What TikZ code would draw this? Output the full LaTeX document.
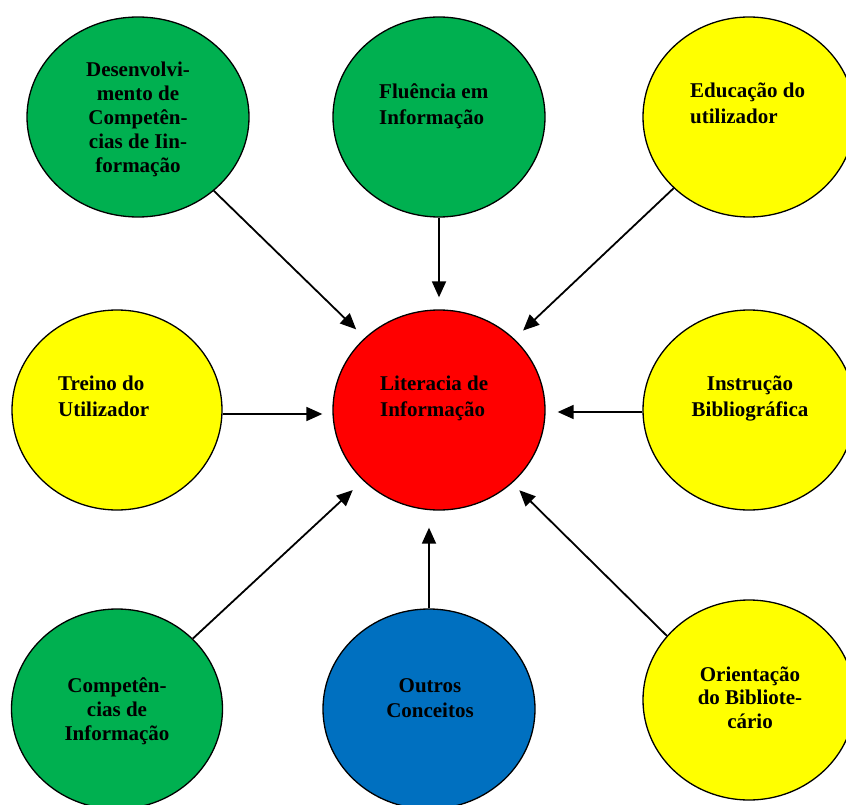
\documentclass[tikz,border=0pt]{standalone}
\usepackage{fontspec}
\setmainfont{Liberation Serif}
\usetikzlibrary{shapes.geometric,arrows.meta}
\definecolor{bgreen}{HTML}{00B050}
\definecolor{byellow}{HTML}{FFFF00}
\definecolor{bred}{HTML}{FF0000}
\definecolor{bblue}{HTML}{0070C0}
\begin{document}
\begin{tikzpicture}[x=1pt,y=-1pt,
  bubble/.style={ellipse, draw=black, line width=1.3pt, inner sep=0pt, minimum width=212pt, minimum height=200pt},
  lbl/.style={font=\bfseries\fontsize{21}{26}\selectfont, inner sep=0pt},
  link/.style={line width=1.8pt, -{Triangle[length=16pt,width=14pt]}}]
\path[use as bounding box] (0,0) rectangle (846,805);
\clip (0,0) rectangle (846,805);
% bubbles
\node[bubble, fill=bgreen, minimum width=222pt] (tl) at (138,117) {};
\node[bubble, fill=bgreen] (tm) at (439,117) {};
\node[bubble, fill=byellow] (tr) at (749,117) {};
\node[bubble, fill=byellow, minimum width=210pt] (ml) at (117,410) {};
\node[bubble, fill=bred] (lit) at (439,410) {};
\node[bubble, fill=byellow] (mr) at (749,410) {};
\node[bubble, fill=bgreen, minimum width=211pt] (bl) at (117,709) {};
\node[bubble, fill=bblue] (bm) at (429,709) {};
\node[bubble, fill=byellow] (br) at (749,700) {};
% labels (anchor = baseline of the last line)
\node[lbl, align=center, anchor=base, font=\bfseries\fontsize{21}{24.2}\selectfont] (tlt) at (138,173) {Desenvolvi-\\mento de\\Competên-\\cias de Iin-\\formação};
\node[lbl, align=left, anchor=base west] (tmt) at (379,125) {Fluência em\\Informação};
\node[lbl, align=left, anchor=base west] (trt) at (690,124) {Educação do\\utilizador};
\node[lbl, align=left, anchor=base west] (mlt) at (58,416) {Treino do\\Utilizador};
\node[lbl, align=left, anchor=base west] (litt) at (380,416) {Literacia de\\Informação};
\node[lbl, align=center, anchor=base] (mrt) at (750,416) {Instrução\\Bibliográfica};
\node[lbl, align=center, anchor=base, font=\bfseries\fontsize{21}{24}\selectfont] (blt) at (117,740) {Competên-\\cias de\\Informação};
\node[lbl, align=center, anchor=base, font=\bfseries\fontsize{21}{25}\selectfont] (bmt) at (430,717) {Outros\\Conceitos};
\node[lbl, align=center, anchor=base, font=\bfseries\fontsize{21}{23.5}\selectfont] (brt) at (750,728) {Orientação\\do Bibliote-\\cário};
% connectors
\draw[link, shorten >=12pt] (tl) -- (lit);
\draw[link, shorten >=12pt] (tm) -- (tm |- lit.north);
\draw[link, shorten >=12pt] (tr) -- (lit);
\draw[link, shorten >=10pt] ([yshift=-4pt]ml.east) -- ([yshift=-4pt]lit.west);
\draw[link, shorten >=12pt] ([yshift=-2pt]mr.west) -- ([yshift=-2pt]lit.east);
\draw[link, shorten >=14pt] (bl) -- (lit);
\draw[link, shorten >=17pt] (bm) -- (bm |- lit.south);
\draw[link, shorten >=10pt] (br.142) -- (lit.-45);
\end{tikzpicture}
\end{document}
